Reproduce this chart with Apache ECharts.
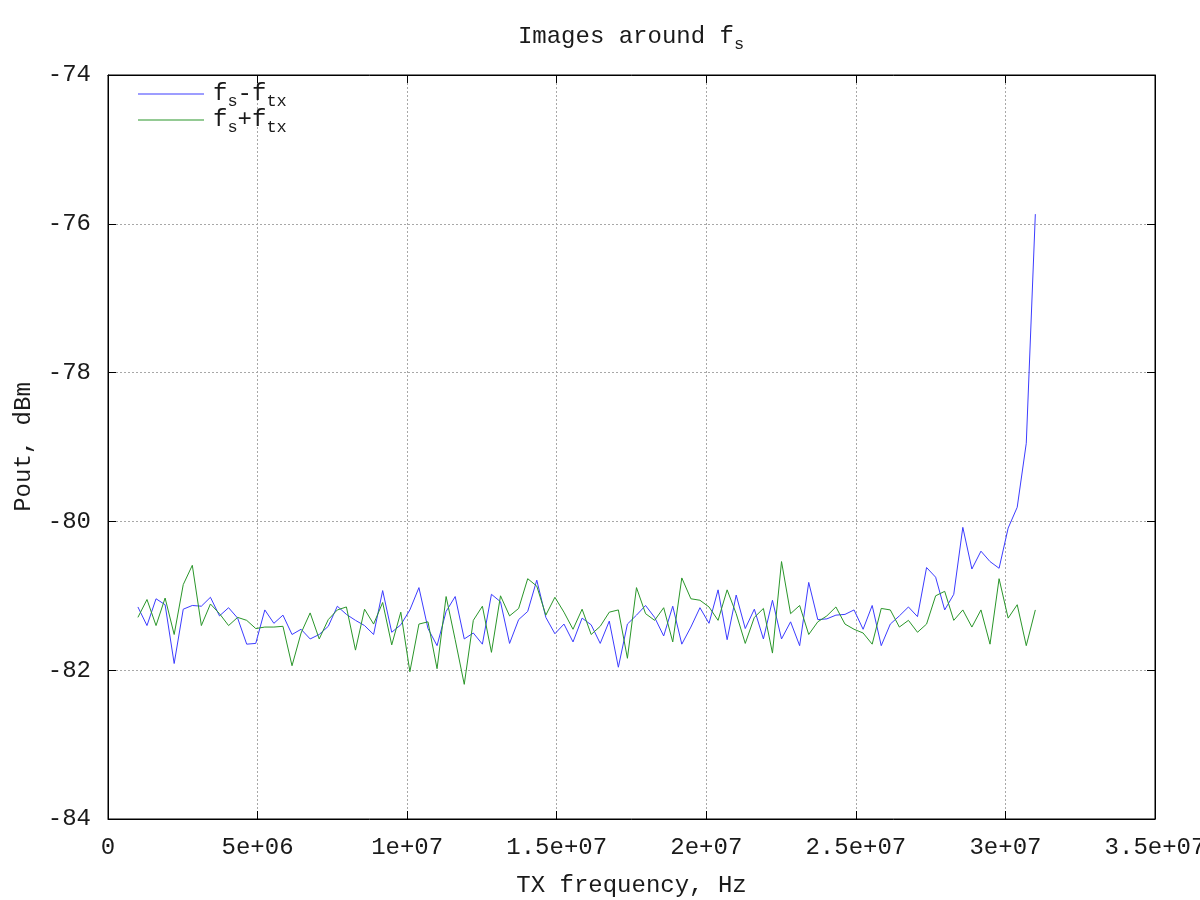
<!DOCTYPE html>
<html>
<head>
<meta charset="utf-8">
<script src="https://cdn.jsdelivr.net/npm/echarts@6/dist/echarts.min.js"></script>
<style>
html,body{margin:0;padding:0;background:#fff;}
#chart{width:1200px;height:900px;}
</style>
</head>
<body>
<div id="chart"></div>
<script>
// ---- data ----
const freqStartHz = 1e6;
const freqStopHz = 3.1e7;
const pointCount = 100;
const freqHz = Array.from({length: pointCount}, (_, i) => freqStartHz + i * (freqStopHz - freqStartHz) / (pointCount - 1));

const imageMinus = [
  -81.15,-81.40,-81.04,-81.12,-81.91,-81.18,-81.13,-81.14,-81.02,-81.27,
  -81.16,-81.30,-81.65,-81.64,-81.19,-81.37,-81.26,-81.52,-81.45,-81.58,
  -81.52,-81.41,-81.14,-81.25,-81.33,-81.40,-81.52,-80.93,-81.49,-81.39,
  -81.19,-80.89,-81.44,-81.67,-81.21,-81.01,-81.58,-81.50,-81.65,-80.98,
  -81.08,-81.64,-81.32,-81.21,-80.79,-81.29,-81.51,-81.38,-81.62,-81.30,
  -81.39,-81.64,-81.34,-81.96,-81.38,-81.26,-81.13,-81.29,-81.54,-81.14,
  -81.65,-81.42,-81.16,-81.37,-80.92,-81.59,-80.99,-81.44,-81.18,-81.58,
  -81.06,-81.58,-81.35,-81.67,-80.82,-81.32,-81.31,-81.26,-81.25,-81.19,
  -81.45,-81.13,-81.67,-81.38,-81.27,-81.15,-81.28,-80.62,-80.75,-81.19,
  -80.98,-80.08,-80.64,-80.40,-80.54,-80.63,-80.09,-79.81,-78.95,-75.87
];
const imagePlus = [
  -81.29,-81.05,-81.40,-81.03,-81.52,-80.85,-80.59,-81.40,-81.11,-81.24,
  -81.40,-81.29,-81.33,-81.44,-81.42,-81.42,-81.41,-81.94,-81.50,-81.23,
  -81.58,-81.32,-81.19,-81.15,-81.73,-81.18,-81.38,-81.09,-81.66,-81.22,
  -82.02,-81.38,-81.35,-81.98,-81.01,-81.59,-82.19,-81.33,-81.14,-81.76,
  -81.00,-81.27,-81.17,-80.77,-80.87,-81.26,-81.02,-81.22,-81.45,-81.18,
  -81.52,-81.41,-81.22,-81.19,-81.84,-80.89,-81.24,-81.33,-81.16,-81.62,
  -80.76,-81.04,-81.06,-81.15,-81.33,-80.92,-81.24,-81.64,-81.29,-81.17,
  -81.77,-80.54,-81.24,-81.13,-81.52,-81.35,-81.27,-81.15,-81.38,-81.45,
  -81.50,-81.65,-81.17,-81.19,-81.42,-81.33,-81.49,-81.38,-81.00,-80.94,
  -81.33,-81.19,-81.42,-81.19,-81.65,-80.77,-81.30,-81.12,-81.67,-81.19
];
const xTickLabels = ['0','5e+06','1e+07','1.5e+07','2e+07','2.5e+07','3e+07','3.5e+07'];
const yTickLabels = ['-84','-82','-80','-78','-76','-74'];
const seriesNames = ['fs-ftx', 'fs+ftx'];
const legendLabels = {
  'fs-ftx': '{n|f}{sub|s}{n|-f}{sub|tx}',
  'fs+ftx': '{n|f}{sub|s}{n|+f}{sub|tx}'
};

// ---- chart ----
const FONT = '"Liberation Mono", "DejaVu Sans Mono", monospace';
const FS = 24;
const TXT = '#1a1a1a';
const rich = {
  n: {fontFamily: FONT, fontSize: FS, lineHeight: 24, verticalAlign: 'top', color: TXT},
  sub: {fontFamily: FONT, fontSize: 17, lineHeight: 16, padding: [11, 0, 0, 0], verticalAlign: 'top', color: TXT}
};

const chart = echarts.init(document.getElementById('chart'), null, {renderer: 'canvas'});

function mkX(pos, main) {
  return {
    type: 'value', position: pos, min: 0, max: 3.5e7, interval: 5e6,
    axisLine: {show: true, onZero: false, lineStyle: {color: '#000', width: 1}},
    axisTick: {show: true, inside: true, length: 8, lineStyle: {color: '#000'}},
    axisLabel: {show: main, margin: 17, color: TXT, fontFamily: FONT, fontSize: FS,
      formatter: v => xTickLabels[Math.round(v / 5e6)]},
    splitLine: {show: main, lineStyle: {color: '#a8a8a8', type: [2, 2], width: 1}},
    name: main ? 'TX frequency, Hz' : '', nameLocation: 'middle', nameGap: 55,
    nameTextStyle: {color: TXT, fontFamily: FONT, fontSize: FS}
  };
}
function mkY(pos, main) {
  return {
    type: 'value', position: pos, min: -84, max: -74, interval: 2,
    axisLine: {show: true, onZero: false, lineStyle: {color: '#000', width: 1}},
    axisTick: {show: true, inside: true, length: 8, lineStyle: {color: '#000'}},
    axisLabel: {show: main, margin: 17, color: TXT, fontFamily: FONT, fontSize: FS,
      formatter: v => yTickLabels[Math.round((v + 84) / 2)]},
    splitLine: {show: main, lineStyle: {color: '#a8a8a8', type: [2, 2], width: 1}},
    name: main ? 'Pout, dBm' : '', nameLocation: 'middle', nameGap: 72, nameRotate: 90,
    nameTextStyle: {color: TXT, fontFamily: FONT, fontSize: FS}
  };
}

chart.setOption({
  animation: false,
  backgroundColor: '#fff',
  grid: {left: 108, right: 45, top: 75, bottom: 81, containLabel: false,
    outerBoundsMode: 'none',
    show: true, borderColor: '#000', borderWidth: 1},
  graphic: [{
    type: 'text', x: 631, y: 25,
    style: {text: '{n|Images around f}{sub|s}', rich: rich, align: 'center', textAlign: 'center',
      verticalAlign: 'top', textVerticalAlign: 'top', fontFamily: FONT, fontSize: FS, fill: TXT}
  }],
  legend: {
    orient: 'vertical', left: 138, top: 82, itemGap: -2, padding: 0,
    icon: 'rect', itemWidth: 66, itemHeight: 1,
    data: seriesNames,
    formatter: name => legendLabels[name],
    textStyle: {fontFamily: FONT, fontSize: FS, color: TXT, rich: rich, padding: [0, 0, 0, 4]},
    selectedMode: false
  },
  xAxis: [mkX('bottom', true), mkX('top', false)],
  yAxis: [mkY('left', true), mkY('right', false)],
  series: [
    {name: seriesNames[0], type: 'line', showSymbol: false, symbol: 'none',
      lineStyle: {color: '#3c3cff', width: 1}, itemStyle: {color: '#3c3cff'},
      data: freqHz.map((f, i) => [f, imageMinus[i]])},
    {name: seriesNames[1], type: 'line', showSymbol: false, symbol: 'none',
      lineStyle: {color: '#2a962a', width: 1}, itemStyle: {color: '#2a962a'},
      data: freqHz.map((f, i) => [f, imagePlus[i]])}
  ]
});
</script>
</body>
</html>
